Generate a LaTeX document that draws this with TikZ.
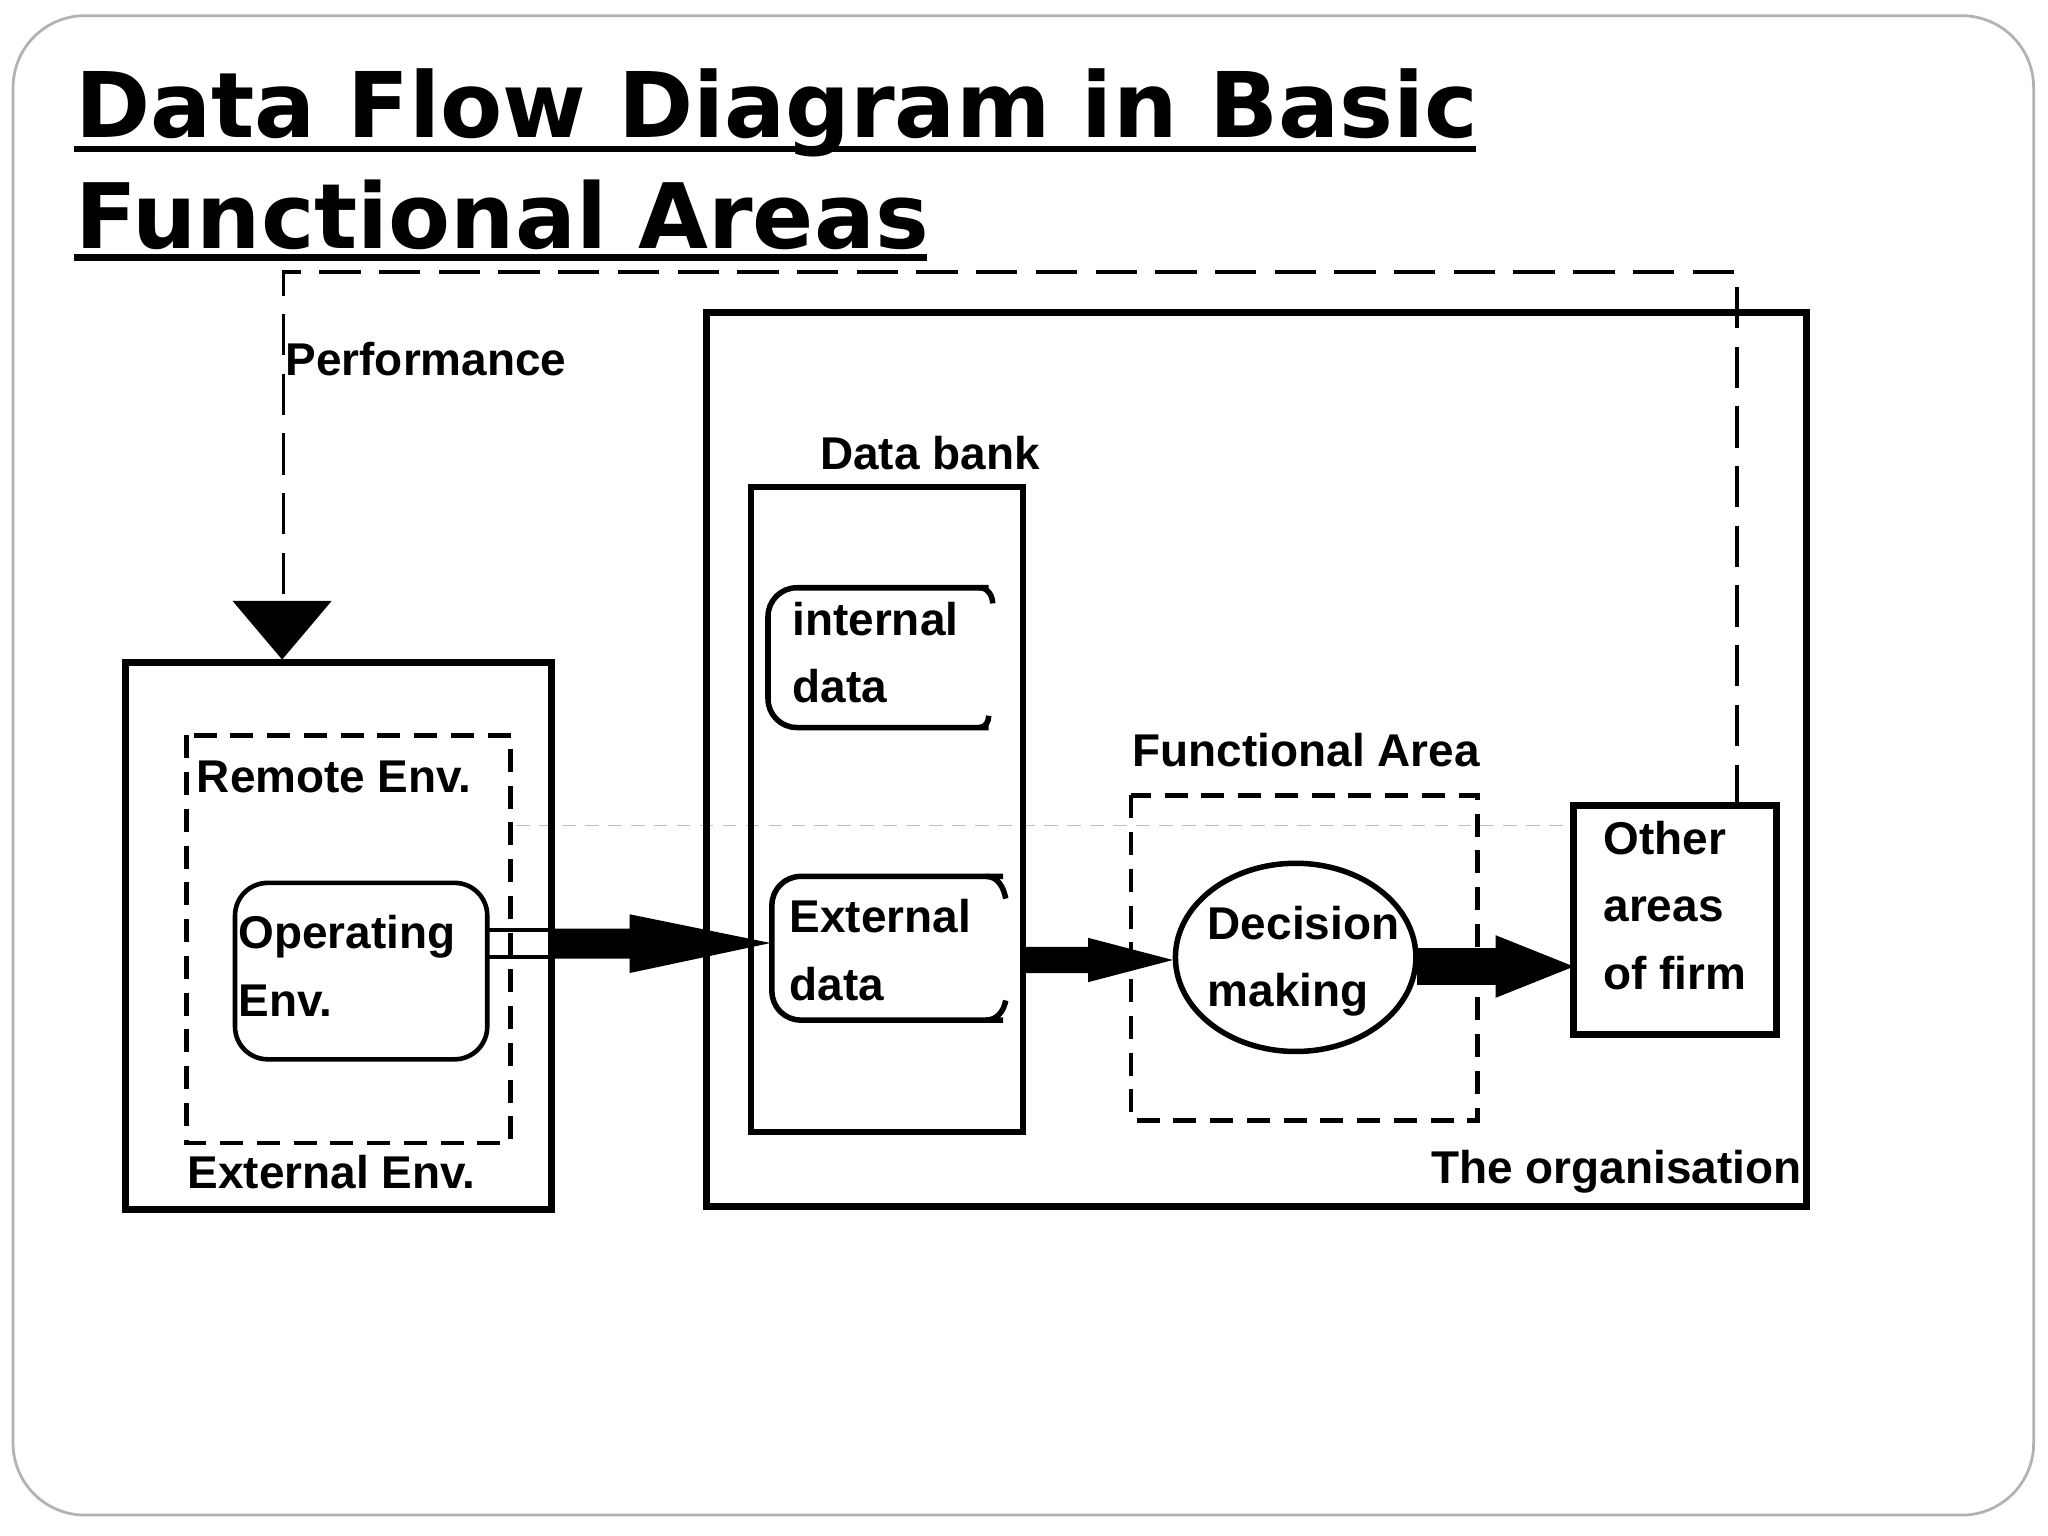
\documentclass[tikz,border=0pt]{standalone}
\usepackage{fontspec}
\setmainfont{Liberation Sans}
\newfontfamily\titlef{DejaVu Sans}
\usetikzlibrary{shapes.geometric,calc}
\begin{document}
\begin{tikzpicture}[x=0.01cm,y=-0.01cm,
 lab/.style={font=\bfseries\fontsize{10}{14.7}\selectfont,inner sep=0pt},
 dsh/.style={line width=1pt,dash pattern=on 5pt off 3pt}]
\useasboundingbox (0,0) rectangle (1568,1176);
\draw[gray!60,line width=0.6pt,rounded corners=0.55cm] (10,12) rectangle (1557,1160);
% title
\node[anchor=base west,inner sep=0pt] (t1) at (57,105) {\resizebox{10.73cm}{!}{\titlef\bfseries Data Flow Diagram in Basic}};
\node[anchor=base west,inner sep=0pt] (t2) at (57,190) {\resizebox{6.53cm}{!}{\titlef\bfseries Functional Areas}};
\draw[line width=1.4pt] (57,114) -- (1130,114);
\draw[line width=1.4pt] (57,197) -- (710,197);
% faint line
\draw[gray!50,line width=0.4pt,dash pattern=on 3pt off 2pt] (395,632) -- (1200,632);
% performance feedback
\coordinate (p1) at (1330,617);
\draw[line width=0.8pt,dash pattern=on 9pt off 4pt] (p1) -- (1330,208) -- (217,208) -- (217,462);
\fill (178,460) -- (254,460) -- (216,505) -- cycle;
\node[lab,anchor=west] (perf) at (218,275) {Performance};
% left box
\draw[line width=1.5pt] (96,507) rectangle (422,926);
\draw[dsh] (143,563) rectangle (391,875);
\node[lab,anchor=west] (rem) at (150,595) {Remote Env.};
\node[lab,anchor=west] (ext) at (143,897) {External Env.};
\node[draw,line width=1pt,rounded corners=0.25cm,minimum width=1.93cm,minimum height=1.35cm] (op) at (276.5,743.5) {};
\node[lab,anchor=north west,align=left] at (182,700) {Operating\\Env.};
% hollow shaft and arrow
\draw[line width=0.9pt] (373,712) -- (420,712) (373,733) -- (420,733);
\fill (420,711) -- (482,711) -- (482,700) -- (590,722) -- (482,745) -- (482,734) -- (420,734) -- cycle;
% organisation
\draw[line width=1.5pt] (541,239) rectangle (1383,924);
\node[lab,anchor=east] (org) at (1380,897) {The organisation};
% data bank
\draw[line width=1.3pt] (575,373) rectangle (783,867);
\node[lab] (db) at (712,347) {Data bank};
\draw[line width=1.2pt,rounded corners=0.22cm] (757,450) -- (588,450) -- (588,557) -- (757,557);
\draw[line width=1.2pt] (750,450) to[out=0,in=90] (760,462);
\draw[line width=1.2pt] (750,557) to[out=0,in=-90] (757,548);
\node[lab,anchor=north west,align=left] (int) at (606,460) {internal\\data};
\draw[line width=1.2pt,rounded corners=0.22cm] (768,671) -- (591,671) -- (591,781) -- (768,781);
\draw[line width=1.2pt] (755,671) to[out=0,in=100] (770,688);
\draw[line width=1.2pt] (755,781) to[out=0,in=-100] (770,766);
\node[lab,anchor=north west,align=left] (exd) at (604,688) {External\\data};
% arrow to decision
\fill (783,725) -- (833,725) -- (833,718) -- (898,735) -- (833,752) -- (833,745) -- (783,745) -- cycle;
% functional area
\draw[dsh] (866,609) rectangle (1131,858);
\node[lab] (fa) at (1000,574) {Functional Area};
\node[draw,ellipse,line width=1.2pt,minimum width=1.84cm,minimum height=1.44cm] (dm) at (992,733) {};
\node[lab,anchor=north west,align=left] at (924,693) {Decision\\making};
% arrow to other
\fill (1085,726) -- (1145,726) -- (1145,716) -- (1205,740) -- (1145,764) -- (1145,754) -- (1085,754) -- cycle;
\draw[line width=1.5pt] (1205,617) rectangle (1360,792);
\node[lab,anchor=north west,align=left] (oth) at (1227,628) {Other\\areas\\of firm};
\end{tikzpicture}
\end{document}
